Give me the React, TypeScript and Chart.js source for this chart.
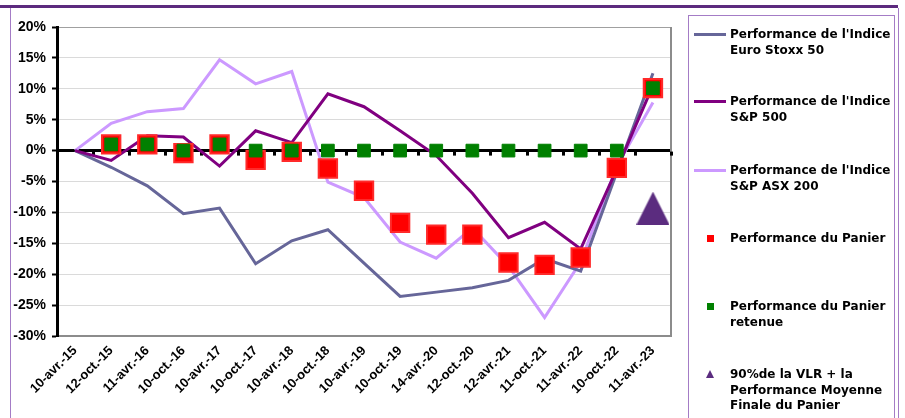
import React, { useEffect, useRef } from "react";
import { Chart, registerables } from "chart.js";

Chart.register(...registerables);

const categories = [
  "10-avr.-15", "12-oct.-15", "11-avr.-16", "10-oct.-16", "10-avr.-17", "10-oct.-17",
  "10-avr.-18", "10-oct.-18", "10-avr.-19", "10-oct.-19", "14-avr.-20", "12-oct.-20",
  "12-avr.-21", "11-oct.-21", "11-avr.-22", "10-oct.-22", "11-avr.-23",
];

const euroStoxx50 = [0, -2.7, -5.7, -10.2, -9.3, -18.3, -14.6, -12.8, -18.2, -23.6, -22.9, -22.2, -21.0, -17.5, -19.5, -3.5, 12.5];
const sp500 = [0, -1.6, 2.4, 2.2, -2.5, 3.2, 1.3, 9.2, 7.1, 3.2, -0.8, -6.9, -14.1, -11.6, -15.9, -3.0, 10.5];
const asx200 = [0, 4.4, 6.3, 6.8, 14.7, 10.8, 12.8, -5.1, -7.6, -14.8, -17.4, -12.5, -18.7, -27.0, -18.0, -2.5, 7.8];
const panier = [null, 1.0, 1.0, -0.4, 1.0, -1.5, -0.2, -2.9, -6.5, -11.7, -13.6, -13.6, -18.1, -18.5, -17.3, -2.8, 10.1];
const panierRetenue = [null, 1.0, 1.0, 0, 1.0, 0, 0, 0, 0, 0, 0, 0, 0, 0, 0, 0, 10.1];
const vlrPerf = [null, null, null, null, null, null, null, null, null, null, null, null, null, null, null, null, -9.3];

const yTickValues = [-30, -25, -20, -15, -10, -5, 0, 5, 10, 15, 20];

const seriesNames = [
  ["Performance de l'Indice", "Euro Stoxx 50"],
  ["Performance de l'Indice", "S&P 500"],
  ["Performance de l'Indice", "S&P ASX 200"],
  ["Performance du Panier"],
  ["Performance du Panier", "retenue"],
  ["90%de la VLR + la", "Performance Moyenne", "Finale du Panier"],
];

const COL_EURO = "#666699";
const COL_SP = "#800080";
const COL_ASX = "#cc99ff";
const COL_RED = "#ff0000";
const COL_GREEN = "#008000";
const COL_TRI = "#5b2c7f";
const FRAME = "#a47cc6";

function makeTriangle(): HTMLCanvasElement {
  const c = document.createElement("canvas");
  c.width = 33;
  c.height = 33;
  const g = c.getContext("2d")!;
  g.fillStyle = COL_TRI;
  g.beginPath();
  g.moveTo(16.5, 0);
  g.lineTo(33, 33);
  g.lineTo(0, 33);
  g.closePath();
  g.fill();
  return c;
}

const framePlugin = {
  id: "frame",
  beforeDatasetsDraw(chart: any) {
    const { ctx, chartArea: a, scales } = chart;
    const x = scales.x;
    const y = scales.y;
    ctx.save();
    ctx.strokeStyle = "#8c8c8c";
    ctx.lineWidth = 2;
    ctx.beginPath();
    ctx.moveTo(a.right, a.top);
    ctx.lineTo(a.right, a.bottom + 1);
    ctx.stroke();
    const y0 = y.getPixelForValue(0);
    const step = x.getPixelForValue(1) - x.getPixelForValue(0);
    ctx.fillStyle = "#000";
    for (let i = 1; i <= categories.length; i++) {
      const px = x.getPixelForValue(i) - step / 2;
      ctx.fillRect(Math.round(px) - 1, y0 + 1, 3, 4);
    }
    ctx.restore();
  },
};

function Legend() {
  const symbols = [
    { kind: "line", color: COL_EURO },
    { kind: "line", color: COL_SP },
    { kind: "line", color: COL_ASX },
    { kind: "square", color: COL_RED },
    { kind: "square", color: COL_GREEN },
    { kind: "tri", color: COL_TRI },
  ];
  const tops = [26, 93, 162, 230, 298, 366];
  return (
    <div
      style={{
        position: "absolute",
        left: 688,
        top: 15,
        width: 207,
        height: 420,
        border: `1px solid ${FRAME}`,
        boxSizing: "border-box",
      }}
    >
      {seriesNames.map((lines, i) => {
        const s = symbols[i];
        const top = tops[i] - 15;
        let sym: any = null;
        if (s.kind === "line") {
          sym = (
            <div style={{ position: "absolute", left: 5, top: 6, width: 32, height: 3, background: s.color }} />
          );
        } else if (s.kind === "square") {
          sym = (
            <div style={{ position: "absolute", left: 18, top: 4, width: 7, height: 7, background: s.color }} />
          );
        } else {
          sym = (
            <div
              style={{
                position: "absolute",
                left: 17,
                top: 3,
                width: 0,
                height: 0,
                borderLeft: "4.5px solid transparent",
                borderRight: "4.5px solid transparent",
                borderBottom: `8px solid ${s.color}`,
              }}
            />
          );
        }
        return (
          <div key={i} style={{ position: "absolute", left: 0, top, width: 206 }}>
            {sym}
            <div
              style={{
                position: "absolute",
                left: 41,
                top: 0,
                font: "bold 12px 'DejaVu Sans', Verdana, sans-serif",
                lineHeight: "15.7px",
                color: "#000",
                whiteSpace: "nowrap",
              }}
            >
              {lines.map((t, j) => (
                <div key={j}>{t}</div>
              ))}
            </div>
          </div>
        );
      })}
    </div>
  );
}

export default function App() {
  const ref = useRef<HTMLCanvasElement>(null);

  useEffect(() => {
    document.body.style.margin = "0";
    const canvas = ref.current!;
    const tri = makeTriangle();
    const xFont = { family: "'Liberation Sans', Arial, sans-serif", weight: "bold" as const, size: 13 };
    const yFont = { family: "'Liberation Sans', Arial, sans-serif", weight: "bold" as const, size: 14 };
    const chart = new Chart(canvas, {
      type: "line",
      data: {
        labels: categories,
        datasets: [
          {
            label: seriesNames[0].join(" "),
            data: euroStoxx50,
            borderColor: COL_EURO,
            borderWidth: 3,
            pointRadius: 0,
            tension: 0,
            order: 4,
          },
          {
            label: seriesNames[1].join(" "),
            data: sp500,
            borderColor: COL_SP,
            borderWidth: 3,
            pointRadius: 0,
            tension: 0,
            order: 3,
          },
          {
            label: seriesNames[2].join(" "),
            data: asx200,
            borderColor: COL_ASX,
            borderWidth: 3,
            pointRadius: 0,
            tension: 0,
            order: 5,
          },
          {
            label: seriesNames[3].join(" "),
            data: panier,
            showLine: false,
            pointStyle: "rect",
            pointRadius: 13,
            pointBorderWidth: 2,
            pointBackgroundColor: COL_RED,
            pointBorderColor: "#ff2a2a",
            borderColor: COL_RED,
            backgroundColor: COL_RED,
            order: 2,
          },
          {
            label: seriesNames[4].join(" "),
            data: panierRetenue,
            showLine: false,
            pointStyle: "rect",
            pointRadius: 9,
            pointBorderWidth: 1,
            pointBackgroundColor: COL_GREEN,
            pointBorderColor: COL_GREEN,
            borderColor: COL_GREEN,
            backgroundColor: COL_GREEN,
            order: 1,
          },
          {
            label: seriesNames[5].join(" "),
            data: vlrPerf,
            showLine: false,
            pointStyle: tri as any,
            pointRadius: 16,
            borderColor: COL_TRI,
            backgroundColor: COL_TRI,
            order: 0,
          },
        ],
      },
      options: {
        responsive: false,
        animation: false,
        events: [],
        layout: { padding: { top: 27, right: 234, left: 0, bottom: 0 } },
        plugins: { legend: { display: false }, tooltip: { enabled: false } },
        scales: {
          x: {
            offset: true,
            afterFit: (s: any) => {
              s.height = 82;
            },
            grid: { display: false, drawTicks: false },
            border: { display: true, color: "#8c8c8c", width: 2 },
            ticks: {
              autoSkip: false,
              maxRotation: 45,
              minRotation: 45,
              padding: 7,
              color: "#000",
              font: xFont,
            },
          },
          y: {
            min: -30,
            max: 20,
            afterFit: (s: any) => {
              s.width = 57;
            },
            afterBuildTicks: (s: any) => {
              s.ticks = yTickValues.map((v) => ({ value: v }));
            },
            ticks: {
              color: "#000",
              padding: 6,
              font: yFont,
              callback: (v: any) => `${v}%`,
            },
            grid: {
              color: (c: any) =>
                c.tick && c.tick.value === 0
                  ? "#000"
                  : c.tick && c.tick.value === 20
                  ? "#a0a0a0"
                  : c.tick && c.tick.value === -30
                  ? "#8c8c8c"
                  : "#dadada",
              lineWidth: (c: any) => (c.tick && c.tick.value === 0 ? 3 : 1),
              tickColor: "#000",
              tickLength: 5,
              tickWidth: 2,
            },
            border: { color: "#000", width: 3 },
          },
        },
      },
      plugins: [framePlugin],
    });
    return () => chart.destroy();
  }, []);

  return (
    <div style={{ position: "absolute", left: 0, top: 0, width: 905, height: 418, background: "#fff", overflow: "hidden" }}>
      <div style={{ position: "absolute", left: 0, top: 5, width: 898, height: 3, background: "#5c2a7e" }} />
      <div style={{ position: "absolute", left: 10, top: 8, width: 1, height: 410, background: FRAME }} />
      <div style={{ position: "absolute", left: 898, top: 8, width: 1, height: 410, background: FRAME }} />
      <canvas ref={ref} width={905} height={418} style={{ position: "absolute", left: 0, top: 0, width: 905, height: 418 }} />
      <Legend />
    </div>
  );
}
